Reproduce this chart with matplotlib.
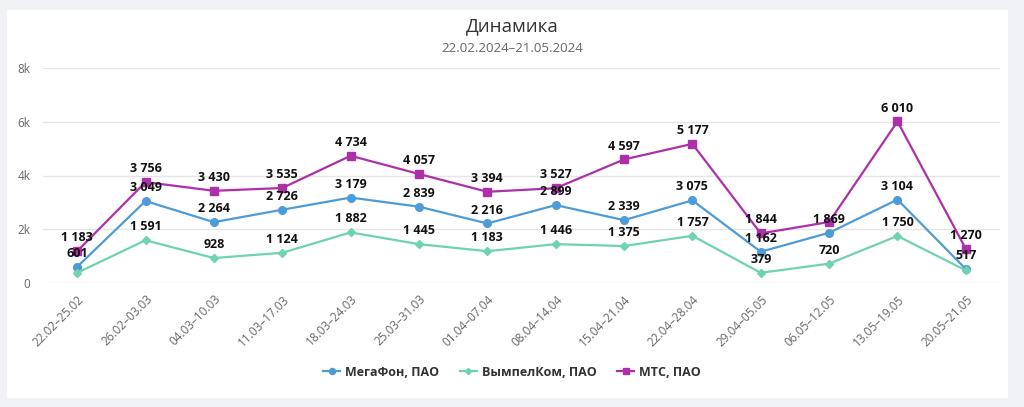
import matplotlib.pyplot as plt
from matplotlib.patches import Rectangle

# data
weeks = ["22.02–25.02", "26.02–03.03", "04.03–10.03", "11.03–17.03", "18.03–24.03",
         "25.03–31.03", "01.04–07.04", "08.04–14.04", "15.04–21.04", "22.04–28.04",
         "29.04–05.05", "06.05–12.05", "13.05–19.05", "20.05–21.05"]
megafon = [601, 3049, 2264, 2726, 3179, 2839, 2216, 2899, 2339, 3075, 1162, 1869, 3104, 517]
vimpelcom = [380, 1591, 928, 1124, 1882, 1445, 1183, 1446, 1375, 1757, 379, 720, 1750, 470]
mts = [1183, 3756, 3430, 3535, 4734, 4057, 3394, 3527, 4597, 5177, 1844, 2270, 6010, 1270]
# labels that the chart hides because they overlap
hidden_vimpel = [0, 13]
hidden_mts = [11]


def fmt(v):
    return "{:,}".format(v).replace(",", " ")


fig = plt.figure(figsize=(10.24, 4.07), dpi=100)
fig.patch.set_facecolor("#f0f2f5")
fig.patches.append(Rectangle((7 / 1024, 1 - 398 / 407), 1001 / 1024, 388 / 407,
                             transform=fig.transFigure, facecolor="white",
                             edgecolor="none", zorder=-1))

ax = fig.add_axes([43 / 1024, 1 - 283 / 407, 957 / 1024, 215 / 407])
ax.set_zorder(2)
ax.set_facecolor("none")
x = list(range(len(weeks)))

series = [
    ("МегаФон, ПАО", megafon, "#4d9bd8", "o", 5.5, []),
    ("ВымпелКом, ПАО", vimpelcom, "#6ed3ae", "D", 4, hidden_vimpel),
    ("МТС, ПАО", mts, "#ae30a9", "s", 5.5, hidden_mts),
]
for name, vals, color, marker, ms, hidden in series:
    ax.plot(x, vals, color=color, lw=1.6, marker=marker, markersize=ms, label=name, zorder=3)
    for i, v in enumerate(vals):
        if i in hidden:
            continue
        ax.annotate(fmt(v), (i, v), xytext=(0, 5), textcoords="offset points",
                    ha="center", va="bottom", fontsize=9, fontweight="bold",
                    family="Open Sans", color="#111111", zorder=5)

ax.set_xlim(-0.5, len(weeks) - 0.5)
ax.set_ylim(0, 8000)
ax.set_yticks([0, 2000, 4000, 6000, 8000])
ax.set_yticklabels(["0", "2k", "4k", "6k", "8k"])
ax.set_xticks(x)
ax.set_xticklabels(weeks, rotation=45, ha="right", rotation_mode="anchor")
for lbl in ax.get_xticklabels() + ax.get_yticklabels():
    lbl.set_family("Open Sans")
ax.tick_params(axis="both", length=0, labelsize=8.5, colors="#666666")
ax.tick_params(axis="x", pad=7)
ax.tick_params(axis="y", pad=9)
ax.grid(axis="y", color="#e6e6e6", lw=1)
ax.set_axisbelow(True)
for s in ax.spines.values():
    s.set_visible(False)

fig.text(0.5, 1 - 26 / 407, "Динамика", ha="center", va="center", fontsize=13.5,
         color="#333333", family="Open Sans")
fig.text(0.5, 1 - 49 / 407, "22.02.2024–21.05.2024", ha="center", va="center",
         fontsize=9.5, color="#666666", family="Open Sans")

leg = fig.legend(loc="center", bbox_to_anchor=(0.5, 1 - 372 / 407), ncol=3, frameon=False,
                 prop={"weight": "bold", "size": 9, "family": "Open Sans"},
                 handlelength=1.4, columnspacing=1.6, handletextpad=0.4, markerscale=0.8)
for t in leg.get_texts():
    t.set_color("#333333")

fig.savefig("out.png", dpi=100, facecolor=fig.get_facecolor())
